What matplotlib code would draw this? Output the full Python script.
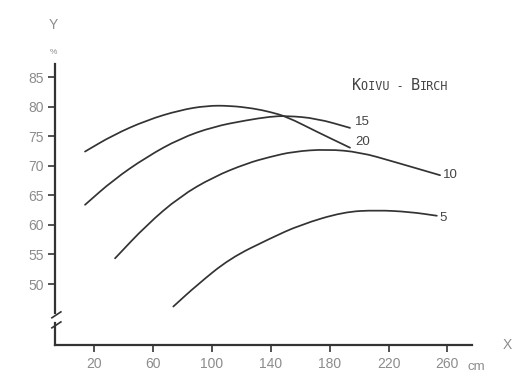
import matplotlib
matplotlib.use("Agg")
import matplotlib.pyplot as plt
from matplotlib.path import Path
from matplotlib.patches import PathPatch

# curves: x in cm, y in %
x_20 = [13.7, 32.9, 55.6, 78.2, 96.4, 112.2, 128.1, 139.4, 150.8, 171.2, 193.8]
y_20 = [72.4, 75.2, 77.7, 79.4, 80.15, 80.15, 79.7, 79.1, 78.3, 75.75, 73.05]

x_15 = [13.7, 32.9, 55.6, 78.2, 100.9, 123.6, 139.4, 150.8, 171.2, 193.8]
y_15 = [63.4, 67.6, 71.5, 74.6, 76.6, 77.7, 78.3, 78.45, 78.0, 76.4]

x_10 = [34.1, 55.6, 78.2, 100.9, 123.6, 139.4, 155.3, 178.0, 200.6, 223.3, 255.0]
y_10 = [54.35, 60.0, 64.8, 68.1, 70.4, 71.5, 72.4, 72.8, 72.3, 70.7, 68.4]

x_5 = [73.7, 89.6, 112.2, 139.4, 159.8, 189.3, 212.0, 234.6, 252.8]
y_5 = [46.2, 49.8, 54.35, 57.7, 60.0, 62.2, 62.5, 62.2, 61.55]

curve_names = ["20", "15", "10", "5"]
x_ticks = [20, 60, 100, 140, 180, 220, 260]
y_ticks = [50, 55, 60, 65, 70, 75, 80, 85]

W, H = 530, 376
INK = "#333333"
GREY = "#8c8c8c"


def smooth_path(xs, ys):
    # pen-drawn look: quadratic segments through the midpoints of the read points
    pts = list(zip(xs, ys))
    verts = [pts[0]]
    codes = [Path.MOVETO]
    mid = ((pts[0][0] + pts[1][0]) / 2, (pts[0][1] + pts[1][1]) / 2)
    verts.append(mid)
    codes.append(Path.LINETO)
    for i in range(1, len(pts) - 1):
        nxt = ((pts[i][0] + pts[i + 1][0]) / 2, (pts[i][1] + pts[i + 1][1]) / 2)
        verts += [pts[i], nxt]
        codes += [Path.CURVE3, Path.CURVE3]
    verts.append(pts[-1])
    codes.append(Path.LINETO)
    return Path(verts, codes)


fig = plt.figure(figsize=(W / 100, H / 100), dpi=100)
ax = fig.add_axes([55 / W, 31 / H, 416.7 / W, 281 / H])
ax.set_xlim(-6.7, 276.5)
ax.set_ylim(39.7, 87.2)

# label offsets (points) from each curve's last point
offsets = {"20": (3.6, 4.3), "15": (3.6, 4.3), "10": (2.2, 0), "5": (2.2, -1.4)}
for name, xs, ys in zip(curve_names, [x_20, x_15, x_10, x_5], [y_20, y_15, y_10, y_5]):
    ax.add_patch(PathPatch(smooth_path(xs, ys), fill=False, edgecolor=INK,
                           lw=1.25, capstyle="round"))
    ax.annotate(name, xy=(xs[-1], ys[-1]), xytext=offsets[name],
                textcoords="offset points", ha="left", va="center",
                fontsize=9.5, color="#444444", family="Liberation Sans")

# axes: broken y axis
for s in ["top", "right"]:
    ax.spines[s].set_visible(False)
ax.spines["left"].set_bounds(45.1, 87.2)
ax.spines["left"].set_linewidth(1.6)
ax.spines["left"].set_color(INK)
ax.spines["bottom"].set_linewidth(1.6)
ax.spines["bottom"].set_color(INK)
ax.plot([-6.7, -6.7], [39.7, 43.4], color=INK, lw=1.6, clip_on=False)
ax.plot([-8.8, -2.7], [44.3, 45.3], color=INK, lw=1.2, clip_on=False)
ax.plot([-8.8, -2.7], [42.6, 43.6], color=INK, lw=1.2, clip_on=False)

ax.set_xticks(x_ticks)
ax.set_yticks(y_ticks)
ax.tick_params(axis="both", direction="out", length=5, width=1.2, color=INK,
               labelcolor=GREY, labelsize=10)
ax.tick_params(axis="y", pad=3)
ax.tick_params(axis="x", pad=4)
for lab in ax.get_xticklabels() + ax.get_yticklabels():
    lab.set_family("Liberation Sans")

fig.text(53 / W, 1 - 25 / H, "Y", ha="center", va="center", fontsize=10,
         color=GREY, family="Liberation Sans")
fig.text(53 / W, 1 - 52 / H, "%", ha="center", va="center", fontsize=6,
         color=GREY, family="Liberation Sans")
fig.text(507 / W, 1 - 345 / H, "X", ha="center", va="center", fontsize=10,
         color=GREY, family="Liberation Sans")
fig.text(468 / W, 1 - 367 / H, "cm", ha="left", va="center", fontsize=9.5,
         color=GREY, family="Liberation Sans")

# small-caps title "Koivu - Birch"
parts = [("K", 11), ("OIVU - ", 8.5), ("B", 11), ("IRCH", 8.5)]
prev = fig.text(351.7 / W, 1 - 89.5 / H, parts[0][0], fontsize=parts[0][1],
                color="#444444", family="DejaVu Sans Mono", va="baseline")
for txt, size in parts[1:]:
    prev = ax.annotate(txt, xy=(1, 0), xycoords=prev, va="bottom", ha="left",
                       fontsize=size, color="#444444", family="DejaVu Sans Mono")

fig.savefig("out.png", dpi=100, facecolor="white")
